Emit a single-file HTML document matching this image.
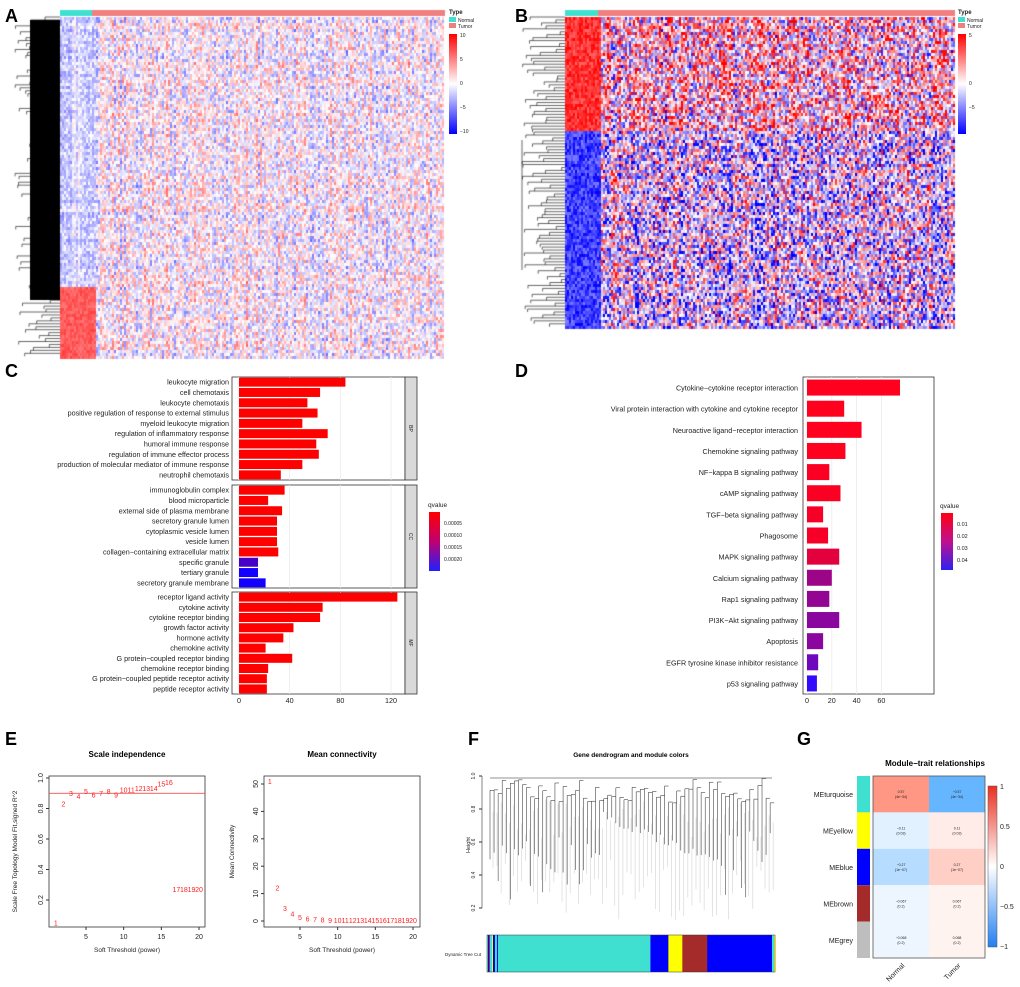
<!DOCTYPE html>
<html><head><meta charset="utf-8"><style>
body{margin:0;background:#fff;width:1020px;height:987px;overflow:hidden;position:relative;font-family:"Liberation Sans",Arial,sans-serif}
canvas{position:absolute}
svg{position:absolute;left:0;top:0}
</style></head><body>
<canvas id="hmA" width="1020" height="370" style="left:0;top:0"></canvas>
<svg id="main" width="1020" height="987"></svg>
<script>
// ---------- Panel C data ----------
const goTerms=["leukocyte migration","cell chemotaxis","leukocyte chemotaxis","positive regulation of response to external stimulus","myeloid leukocyte migration","regulation of inflammatory response","humoral immune response","regulation of immune effector process","production of molecular mediator of immune response","neutrophil chemotaxis","immunoglobulin complex","blood microparticle","external side of plasma membrane","secretory granule lumen","cytoplasmic vesicle lumen","vesicle lumen","collagen\u2212containing extracellular matrix","specific granule","tertiary granule","secretory granule membrane","receptor ligand activity","cytokine activity","cytokine receptor binding","growth factor activity","hormone activity","chemokine activity","G protein\u2212coupled receptor binding","chemokine receptor binding","G protein\u2212coupled peptide receptor activity","peptide receptor activity"];
const goCounts=[84,64,54,62,50,70,61,63,50,33,36,23,34,30,30,30,31,15,15,21,125,66,64,43,35,21,42,23,22,22];
const goQ=[0,0,0,0,0,0,0,0,0,0,0,0,0,0,0,0,0,0.00018,0.00023,0.00023,0,0,0,0,0,0,0,0,0,0];
const goOnt=["BP","CC","MF"];
const goTicks=[0,40,80,120];
// ---------- Panel D data ----------
const kegTerms=["Cytokine\u2212cytokine receptor interaction","Viral protein interaction with cytokine and cytokine receptor","Neuroactive ligand\u2212receptor interaction","Chemokine signaling pathway","NF\u2212kappa B signaling pathway","cAMP signaling pathway","TGF\u2212beta signaling pathway","Phagosome","MAPK signaling pathway","Calcium signaling pathway","Rap1 signaling pathway","PI3K\u2212Akt signaling pathway","Apoptosis","EGFR tyrosine kinase inhibitor resistance","p53 signaling pathway"];
const kegCounts=[75,30,44,31,18,27,13,17,26,20,18,26,13,9,8];
const kegQ=[0.001,0.001,0.001,0.001,0.002,0.002,0.003,0.003,0.007,0.022,0.024,0.026,0.026,0.032,0.045];
const kegTicks=[0,20,40,60];
// ---------- Panel E data ----------
const powers=[1,2,3,4,5,6,7,8,9,10,11,12,13,14,15,16,17,18,19,20];
const sftR2=[0.05,0.83,0.9,0.88,0.91,0.89,0.9,0.91,0.89,0.92,0.92,0.93,0.93,0.93,0.96,0.97,0.27,0.27,0.27,0.27];
const meanK=[51,12,4.5,2.5,1.3,0.8,0.5,0.3,0.2,0.1,0.1,0.1,0.1,0.1,0.1,0.1,0.1,0.1,0.1,0.1];
const sftTicks=["1.0","0.8","0.6","0.4","0.2"];
const mkTicks=["0","10","20","30","40","50"];
// ---------- Panel G data ----------
const modules=["MEturquoise","MEyellow","MEblue","MEbrown","MEgrey"];
const moduleColors=["#40e0d0","#ffff00","#0000ff","#a52a2a","#bebebe"];
const traits=["Normal","Tumor"];
const corNormal=[0.57,-0.11,-0.27,-0.067,-0.068];
const corTumor=[-0.57,0.11,0.27,0.067,0.068];
const pvals=["(4e\u221234)","(0.03)","(1e\u221207)","(0.2)","(0.2)"];
// ---------- Panel F module bar ----------
const modSegs=[["#40e0d0",1],["#0000ff",1],["#a52a2a",1],["#40e0d0",2],["#ffff00",1],["#0000ff",2],["#40e0d0",2],["#0000ff",1],["#40e0d0",153],["#0000ff",18],["#ffff00",14],["#a52a2a",25],["#0000ff",65],["#40e0d0",2],["#ffff00",1]];

const NS="http://www.w3.org/2000/svg";
const svg=document.getElementById('main');
function el(tag,attrs,parent,name,inter){const e=document.createElementNS(NS,tag);for(const k in attrs)e.setAttribute(k,attrs[k]);(parent||svg).appendChild(e);


return e;}
function txt(x,y,s,size,opts,name){const t=el('text',Object.assign({x:x,y:y,'font-size':size,'font-family':'Liberation Sans, Arial, sans-serif',fill:'#222'},opts||{}),null,name||'label');t.textContent=s;return t;}

[["A",5,22],["B",515,22],["C",5,377],["D",515,377],["E",5,745],["F",468,745],["G",797,745]].forEach(p=>txt(p[1],p[2],p[0],18,{'font-weight':'bold',fill:'#000'},'panel-label-'+p[0].toLowerCase()));

// ---------- Heatmaps (texture) ----------
const ctx=document.getElementById('hmA').getContext('2d');
function h(i,j,s){let x=Math.sin(i*12.9898+j*78.233+s*37.7)*43758.5453;return x-Math.floor(x);}
function col(v){v=Math.max(-1,Math.min(1,v));if(v>=0){const c=Math.round(255*(1-v));return `rgb(255,${c},${c})`;}const c=Math.round(255*(1+v));return `rgb(${c},${c},255)`;}
(function(){const x0=60,x1=445,y0=17,y1=357,cw=2,rh=3;const ncol=Math.floor((x1-x0)/cw);const colBias=[];for(let j=0;j<ncol;j++)colBias.push((h(j,1,1)-0.5)*0.8);
for(let r=0;r*rh<y1-y0;r++){const rb=(h(r,3,2)-0.5)*0.5;for(let j=0;j<ncol;j++){let v=colBias[j]*0.7+rb*0.5+(h(r,j,3)-0.5)*0.9;const x=x0+j*cw,y=y0+r*rh;
if(y>285&&x<95)v=0.7+h(r,j,4)*0.3;else if(x<95)v=v*0.6-0.2;ctx.fillStyle=col(v*0.75);ctx.fillRect(x,y,cw,rh);}}
ctx.fillStyle='#40e0d0';ctx.fillRect(60,10,32,6);ctx.fillStyle='#f08080';ctx.fillRect(92,10,353,6);
ctx.strokeStyle='#000';ctx.lineWidth=0.6;for(let r=0;r<115;r++){const y=y0+r*2.95;const d=15+h(r,7,5)*40;ctx.beginPath();ctx.moveTo(60,y);ctx.lineTo(d,y);ctx.lineTo(d,y+3);ctx.stroke();}
ctx.fillStyle='#000';ctx.fillRect(30,20,30,280);
})();
(function(){const x0=565,x1=955,y0=17,y1=328,cw=2,rh=3;const ncol=Math.floor((x1-x0)/cw);const colBias=[];for(let j=0;j<ncol;j++)colBias.push((h(j,2,6)-0.5));
for(let r=0;r*rh<y1-y0;r++){const y=y0+r*rh;const top=y<130;for(let j=0;j<ncol;j++){const x=x0+j*cw;let v=(h(r,j,7)-0.5)*1.8+colBias[j]*(top?0.6:-0.6);
if(x<600)v=top?0.6+h(r,j,8)*0.4:-(0.5+h(r,j,8)*0.5);else v+=top?0.15:-0.1;ctx.fillStyle=col(v);ctx.fillRect(x,y,cw,rh);}}
ctx.fillStyle='#40e0d0';ctx.fillRect(565,10,33,6);ctx.fillStyle='#f08080';ctx.fillRect(598,10,357,6);
ctx.strokeStyle='#000';ctx.lineWidth=0.6;for(let r=0;r<105;r++){const y=y0+r*2.95;const d=522+h(r,9,5)*40;ctx.beginPath();ctx.moveTo(565,y);ctx.lineTo(d,y);ctx.lineTo(d,y+3);ctx.stroke();}
ctx.beginPath();ctx.moveTo(522,140);ctx.lineTo(522,270);ctx.stroke();
})();
function hmLegend(x,top,ticks,name){txt(x,top,"Type",6,{'font-weight':'bold'},name+'-type-title');
el('rect',{x:x,y:top+3,width:7,height:5,fill:'#40e0d0'},null,name+'-normal-swatch');txt(x+9,top+8,"Normal",5,{},name+'-normal-label');
el('rect',{x:x,y:top+9,width:7,height:5,fill:'#f08080'},null,name+'-tumor-swatch');txt(x+9,top+14,"Tumor",5,{},name+'-tumor-label');
const d=el('defs',{},null,'defs');const g=el('linearGradient',{id:name+'g',x1:0,y1:0,x2:0,y2:1},d,'gradient');
[['0','#ff0000'],['0.5','#ffffff'],['1','#0000ff']].forEach(s=>el('stop',{offset:s[0],'stop-color':s[1]},g,'stop'));
el('rect',{x:x,y:top+20,width:8,height:100,fill:`url(#${name}g)`},null,name+'-colorbar');
ticks.forEach((t,i)=>txt(x+11,top+23+i*(96/(ticks.length-1)),t,5,{},name+'-tick'));}
hmLegend(449,14,["10","5","0","\u22125","\u221210"],'legend-a');
hmLegend(958,14,["5","","0","\u22125",""],'legend-b');

// ---------- Panel C ----------
(function(){const x0=239,k=1.267,L=232,R=405;const panels=[[377,480],[485,588],[592,694]];
const qcol=q=>{const t=Math.min(1,q/0.00023);return `rgb(${Math.round(255*(1-t)+20*t)},0,${Math.round(255*t)})`;};
panels.forEach((p,pi)=>{el('rect',{x:L,y:p[0],width:R-L,height:p[1]-p[0],fill:'#fff',stroke:'#333','stroke-width':0.8},null,'panel-'+goOnt[pi]);
goTicks.forEach(t=>{el('line',{x1:x0+t*k,x2:x0+t*k,y1:p[0],y2:p[1],stroke:'#ebebeb','stroke-width':0.8},null,'gridline');});
el('rect',{x:R,y:p[0],width:12,height:p[1]-p[0],fill:'#d9d9d9',stroke:'#333','stroke-width':0.8},null,'strip-'+goOnt[pi]);
txt(R+4,(p[0]+p[1])/2,goOnt[pi],5,{transform:`rotate(90 ${R+4} ${(p[0]+p[1])/2})`,'text-anchor':'middle'},'strip-label');
const step=(p[1]-p[0])/10;for(let i=0;i<10;i++){const idx=pi*10+i;const cy=p[0]+step*(i+0.5);
el('rect',{x:x0,y:cy-4.5,width:goCounts[idx]*k,height:9,fill:qcol(goQ[idx])},null,'bar-go-'+idx);
txt(229,cy+2.5,goTerms[idx],7.2,{'text-anchor':'end'},'term-label');}});
goTicks.forEach(t=>txt(x0+t*k,703,String(t),7.2,{'text-anchor':'middle'},'x-tick'));
txt(428,507,"qvalue",6.5,{},'qvalue-title');
const d=el('defs',{},null,'defs');const g=el('linearGradient',{id:'gc',x1:0,y1:0,x2:0,y2:1},d,'gradient');
[['0','#ff0000'],['0.5','#c00070'],['1','#2020ff']].forEach(s=>el('stop',{offset:s[0],'stop-color':s[1]},g,'stop'));
el('rect',{x:429,y:512,width:11,height:59,fill:'url(#gc)'},null,'qvalue-colorbar');
["0.00005","0.00010","0.00015","0.00020"].forEach((s,i)=>txt(444,525+i*12,s,5,{},'qvalue-tick'));})();

// ---------- Panel D ----------
(function(){const x0=807,k=1.24,L=803,R=934,T=377,B=694;
el('rect',{x:L,y:T,width:R-L,height:B-T,fill:'#fff',stroke:'#333','stroke-width':0.8},null,'kegg-panel');
kegTicks.forEach(t=>el('line',{x1:x0+t*k,x2:x0+t*k,y1:T,y2:B,stroke:'#ebebeb','stroke-width':0.8},null,'gridline'));
const qc=q=>{const t=Math.min(1,Math.max(0,(q-0.001)/0.044));return `rgb(${Math.round(255-205*t)},${Math.round(10*t)},${Math.round(30+225*t)})`;};
const step=(B-T)/15;kegTerms.forEach((s,i)=>{const cy=T+step*(i+0.5);
el('rect',{x:x0,y:cy-8,width:kegCounts[i]*k,height:16,fill:qc(kegQ[i])},null,'bar-kegg-'+i);
txt(798,cy+3,s,7.2,{'text-anchor':'end'},'pathway-label');});
kegTicks.forEach(t=>txt(x0+t*k,703,String(t),7.2,{'text-anchor':'middle'},'x-tick'));
txt(940,508,"qvalue",6.5,{},'qvalue-title');
const d=el('defs',{},null,'defs');const g=el('linearGradient',{id:'gd',x1:0,y1:0,x2:0,y2:1},d,'gradient');
[['0','#ff0010'],['0.5','#c01090'],['1','#3020f0']].forEach(s=>el('stop',{offset:s[0],'stop-color':s[1]},g,'stop'));
el('rect',{x:941,y:513,width:12,height:57,fill:'url(#gd)'},null,'qvalue-colorbar');
["0.01","0.02","0.03","0.04"].forEach((s,i)=>txt(957,526+i*12,s,5.5,{},'qvalue-tick'));})();

// ---------- Panel E ----------
function scatter(L,R,T,B,x5,x20,yv0,yp0,yv1,yp1,vals,yt,title,ylab,name,ylabX,line){
const sx=v=>x5+(v-5)*(x20-x5)/15,sy=v=>yp0+(v-yv0)*(yp1-yp0)/(yv1-yv0);
el('rect',{x:L,y:T,width:R-L,height:B-T,fill:'none',stroke:'#333','stroke-width':0.8},null,name+'-frame');
if(line!==undefined)el('line',{x1:L,x2:R,y1:sy(line),y2:sy(line),stroke:'#f03030','stroke-width':0.8},null,name+'-threshold-line');
powers.forEach((p,i)=>txt(sx(p),sy(vals[i])+2.5,String(p),7,{fill:'#ff2020','text-anchor':'middle'},name+'-point'));
[5,10,15,20].forEach(t=>{el('line',{x1:sx(t),x2:sx(t),y1:B,y2:B+3,stroke:'#333'},null,'tick');txt(sx(t),B+12,String(t),7,{'text-anchor':'middle'},'x-tick');});
yt.forEach(t=>{const y=sy(Number(t));el('line',{x1:L,x2:L-3,y1:y,y2:y,stroke:'#333'},null,'tick');txt(L-6,y,t,7,{'text-anchor':'middle',transform:`rotate(-90 ${L-6} ${y})`},'y-tick');});
txt((L+R)/2,757,title,8,{'font-weight':'bold','text-anchor':'middle',fill:'#000'},name+'-title');
txt((L+R)/2,952,"Soft Threshold (power)",6.5,{'text-anchor':'middle'},name+'-x-title');
const yc=(T+B)/2;txt(ylabX,yc,ylab,6.5,{'text-anchor':'middle',transform:`rotate(-90 ${ylabX} ${yc})`},name+'-y-title');}
scatter(49,205,776,927,86,199,1.0,778,0.2,900,sftR2,sftTicks,"Scale independence","Scale Free Topology Model Fit,signed R^2",'sft',17,0.9);
scatter(264,420,776,927,300,413,0,921,50,784,meanK,mkTicks,"Mean connectivity","Mean Connectivity",'mk',234);

// ---------- Panel F ----------
(function(){const L=487,R=775,T=775,B=920;
txt(631,757,"Gene dendrogram and module colors",6.5,{'font-weight':'bold','text-anchor':'middle',fill:'#000'},'dendro-title');
el('line',{x1:482,x2:482,y1:776,y2:908,stroke:'#333','stroke-width':0.6},null,'y-axis');
["1.0","0.8","0.6","0.4","0.2"].forEach((s,i)=>{const y=776+i*33;el('line',{x1:479,x2:482,y1:y,y2:y,stroke:'#333'},null,'tick');txt(475,y,s,5,{'text-anchor':'middle',transform:`rotate(-90 475 ${y})`},'y-tick');});
txt(470,845,"Height",5.5,{'text-anchor':'middle',transform:'rotate(-90 470 845)'},'y-title');
const g=el('g',{stroke:'#222','stroke-width':0.5,fill:'none'},null,'dendrogram');
el('path',{d:'M490,778 L772,778'},g,'dendro-top');
for(let i=0;i<70;i++){const x=490+i*4.06;const top=778+h(i,5,5)*25;let bot=830+h(i,11,2)*70;if(x>600&&x<720)bot=810+(x-600)*0.4+h(i,4,4)*10;
el('line',{x1:x,x2:x,y1:top,y2:Math.min(922,bot)},g,'dendro-leaf');
el('line',{x1:x,x2:x+4.06,y1:top,y2:top},g,'dendro-join');}
for(let i=0;i<70;i++){const x=491+i*4.06+2;el('line',{x1:x,x2:x,y1:800+h(i,8,3)*40,y2:860+h(i,9,3)*60,stroke:'#bbb','stroke-width':0.4},null,'dendro-leaf-fine');}
let x=L;const tot=modSegs.reduce((a,b)=>a+b[1],0);modSegs.forEach(s=>{const w=s[1]*(R-L)/tot;el('rect',{x:x,y:935,width:w+0.3,height:37,fill:s[0]},null,'module-segment');x+=w;});
el('rect',{x:L,y:935,width:R-L,height:37,fill:'none',stroke:'#333','stroke-width':0.5},null,'module-bar-frame');
txt(445,956,"Dynamic Tree Cut",4.5,{},'module-bar-label');})();

// ---------- Panel G ----------
(function(){const L=873,R=985,T=776,B=958;const rh=(B-T)/5,cw=(R-L)/2;
const cc=v=>{if(v>=0){return `rgb(255,${Math.round(255-v*(255-90)/0.9)},${Math.round(255-v*(255-60)/0.9)})`;}const a=-v;return `rgb(${Math.round(255-a*(255-40)/0.8)},${Math.round(255-a*(255-140)/0.9)},255)`;};
txt(935,766,"Module\u2212trait relationships",8,{'font-weight':'bold','text-anchor':'middle',fill:'#000'},'g-title');
modules.forEach((m,i)=>{const y=T+i*rh;
el('rect',{x:857,y:y,width:13,height:rh,fill:moduleColors[i]},null,'module-color-'+i);
txt(853,y+rh/2+3,m,7,{'text-anchor':'end'},'module-label');
[corNormal[i],corTumor[i]].forEach((v,j)=>{el('rect',{x:L+j*cw,y:y,width:cw,height:rh,fill:cc(v)},null,'cell-'+m+'-'+traits[j]);
const s=String(v).replace('-','\u2212');txt(L+j*cw+cw/2,y+rh/2-1,s,3.5,{'text-anchor':'middle'},'cell-value');
txt(L+j*cw+cw/2,y+rh/2+4,pvals[i],3.5,{'text-anchor':'middle'},'cell-pvalue');});});
el('rect',{x:L,y:T,width:R-L,height:B-T,fill:'none',stroke:'#555','stroke-width':0.8},null,'g-frame');
traits.forEach((t,j)=>{const x=L+j*cw+cw/2+4;txt(x,966,t,7,{'text-anchor':'end',transform:`rotate(-45 ${x} 966)`},'trait-label');});
const d=el('defs',{},null,'defs');const g=el('linearGradient',{id:'gg',x1:0,y1:0,x2:0,y2:1},d,'gradient');
[['0','#e83020'],['0.5','#ffffff'],['1','#2080f0']].forEach(s=>el('stop',{offset:s[0],'stop-color':s[1]},g,'stop'));
el('rect',{x:988,y:786,width:9,height:161,fill:'url(#gg)',stroke:'#555','stroke-width':0.5},null,'g-colorbar');
["1","0.5","0","\u22120.5","\u22121"].forEach((s,i)=>txt(1000,789+i*40,s,7,{},'g-colorbar-tick'));})();
</script>
</body></html>
